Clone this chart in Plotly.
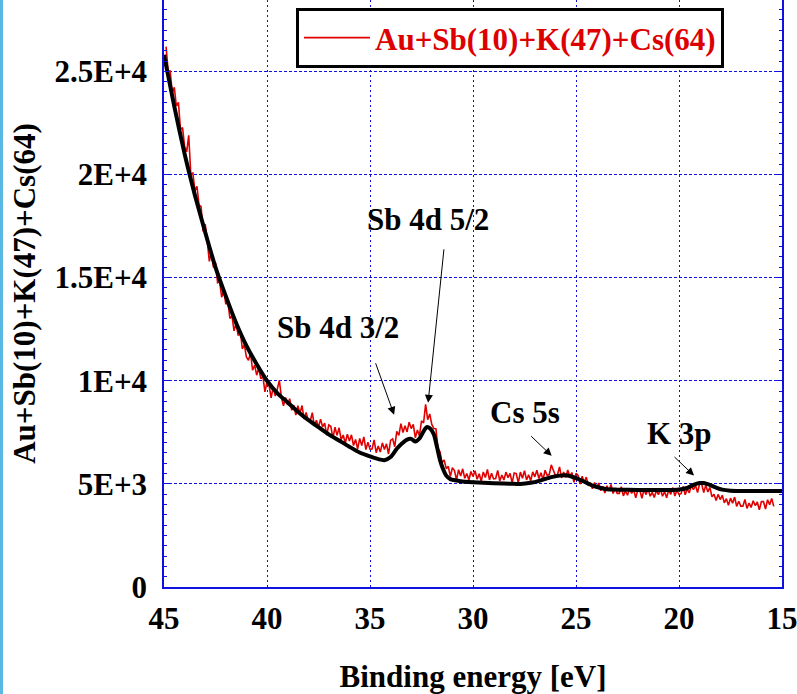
import plotly.graph_objects as go

# ---------------- data ----------------
# measured spectrum: channels every 0.1 eV from 44.9 eV down to 15.4 eV
ENERGY_START = 44.9
ENERGY_STEP = 0.1
spectrum_counts = [
    # 44.9 .. 44.0
    26200, 25030, 25020, 23950, 24230, 23320, 23500, 22180, 22270, 21350,
    # 43.9 .. 43.0
    21100, 21900, 20010, 20070, 19220, 19430, 18530, 18440, 17240, 17600,
    # 42.9 .. 42.0
    16780, 15790, 16250, 15500, 15730, 14750, 14810, 14050, 14380, 13710,
    # 41.9 .. 41.0
    13820, 13020, 13140, 12420, 12780, 12190, 12470, 11550, 11750, 11150,
    # 40.9 .. 40.0
    10990, 11350, 10510, 10750, 10270, 10620, 10100, 10220, 9460, 9940,
    # 39.9 .. 39.0
    9780, 9170, 9690, 9260, 9600, 10010, 9200, 8780, 9190, 8830,
    # 38.9 .. 38.0
    9130, 8570, 8820, 8340, 8790, 8410, 8800, 8140, 8460, 8080,
    # 37.9 .. 37.0
    8060, 8450, 7800, 8090, 7750, 8140, 7760, 7950, 7360, 7860,
    # 36.9 .. 36.0
    7780, 7200, 7750, 7350, 7720, 7140, 7370, 6970, 7410, 7080,
    # 35.9 .. 35.0
    7380, 6860, 7150, 6700, 7200, 6860, 7280, 6660, 7020, 6680,
    # 34.9 .. 34.0
    6690, 7130, 6510, 6840, 6540, 6990, 6670, 6940, 6450, 7110,
    # 33.9 .. 33.0
    7180, 6800, 7550, 7350, 7920, 7490, 7820, 7520, 7990, 7680,
    # 32.9 .. 32.0
    7880, 7240, 7610, 7340, 8060, 7950, 8850, 8110, 8390, 7880,
    # 31.9 .. 31.0
    7680, 7670, 6710, 6560, 6020, 6160, 5740, 5850, 5350, 5780,
    # 30.9 .. 30.0
    5650, 5190, 5690, 5380, 5730, 5270, 5500, 5190, 5600, 5360,
    # 29.9 .. 29.0
    5640, 5220, 5490, 5130, 5580, 5310, 5700, 5190, 5510, 5240,
    # 28.9 .. 28.0
    5260, 5650, 5140, 5430, 5190, 5570, 5300, 5510, 5050, 5530,
    # 27.9 .. 27.0
    5500, 5050, 5570, 5270, 5640, 5190, 5440, 5150, 5580, 5340,
    # 26.9 .. 26.0
    5660, 5260, 5540, 5200, 5660, 5410, 5450, 5920, 5660, 5410,
    # 25.9 .. 25.0
    5440, 5820, 5290, 5570, 5310, 5670, 5370, 5550, 5070, 5510,
    # 24.9 .. 24.0
    5410, 4990, 5370, 5070, 5330, 4900, 5060, 4760, 5070, 4820,
    # 23.9 .. 23.0
    5040, 4670, 4880, 4560, 4910, 4670, 4970, 4530, 4780, 4540,
    # 22.9 .. 22.0
    4540, 4860, 4420, 4660, 4450, 4770, 4540, 4710, 4320, 4710,
    # 21.9 .. 21.0
    4680, 4300, 4730, 4480, 4770, 4400, 4590, 4340, 4680, 4480,
    # 20.9 .. 20.0
    4740, 4400, 4630, 4330, 4710, 4490, 4820, 4410, 4690, 4480,
    # 19.9 .. 19.0
    4520, 4870, 4470, 4750, 4570, 4920, 4720, 4930, 4580, 5000,
    # 18.9 .. 18.0
    5000, 4580, 4940, 4610, 4830, 4370, 4500, 4190, 4490, 4240,
    # 17.9 .. 17.0
    4450, 4080, 4280, 3960, 4310, 4060, 4360, 3910, 4160, 3920,
    # 16.9 .. 16.0
    3920, 4240, 3810, 4070, 3860, 4180, 3950, 4120, 3740, 4140,
    # 15.9 .. 15.4
    4140, 3780, 4230, 3990, 4290, 3910,
]
spectrum_energy = [round(ENERGY_START - ENERGY_STEP * i, 1) for i in range(len(spectrum_counts))]

# fitted curve
fit_energy = [45.0, 44.5, 44.0, 43.5, 43.0, 42.5, 42.0, 41.5, 41.0, 40.5, 40.0,
              39.5, 39.0, 38.5, 38.0, 37.5, 37.0, 36.5, 36.0, 35.5, 35.0, 34.6,
              34.3, 34.0, 33.7, 33.45, 33.2, 33.0, 32.8, 32.6, 32.4, 32.25, 32.1,
              31.9, 31.75, 31.6, 31.44, 31.3, 31.1, 30.6, 30.0, 29.0, 28.0, 27.7,
              27.2, 26.75, 26.2, 25.8, 25.5, 25.0, 24.5, 24.16, 23.8, 23.5, 23.0,
              22.0, 21.0, 20.3, 19.9, 19.6, 19.3, 19.0, 18.8, 18.5, 18.2, 17.9,
              17.5, 17.0, 16.0, 15.0]
fit_counts = [25800, 23300, 21000, 19000, 17200, 15500, 14100, 12800, 11700, 10800, 10000,
              9400, 8950, 8500, 8100, 7750, 7400, 7100, 6800, 6520, 6330, 6200,
              6150, 6300, 6700, 6960, 7150, 7180, 7050, 7200, 7550, 7750, 7700,
              7400, 6800, 6150, 5680, 5400, 5230, 5130, 5080, 5030, 5000, 4990,
              5050, 5160, 5330, 5400, 5420, 5280, 5060, 4900, 4800, 4740, 4720,
              4705, 4700, 4700, 4740, 4800, 4950, 5040, 5040, 4950, 4820, 4720,
              4670, 4660, 4660, 4660]

y_tick_vals = [0, 5000, 10000, 15000, 20000, 25000]
y_tick_text = ["0", "5E+3", "1E+4", "1.5E+4", "2E+4", "2.5E+4"]
x_tick_vals = [45, 40, 35, 30, 25, 20, 15]

series_name = "Au+Sb(10)+K(47)+Cs(64)"

# peak labels: (text, label E, label counts, arrow head E, head counts, ax px, ay px)
peak_labels = [
    ("Sb 4d 3/2", 36.55, 12570, 33.83, 8350, -19, -53),
    ("Sb 4d 5/2", 32.18, 17810, 32.18, 8930, 16, -155),
    ("Cs 5s", 27.48, 8450, 26.18, 6360, -22, -21),
    ("K 3p", 20.0, 7430, 19.27, 5400, -21, -20),
]

# ---------------- figure ----------------
FONT = "Liberation Serif"
FS = 31
BLUE = "#1010e0"

fig = go.Figure()
fig.add_trace(go.Scatter(
    x=spectrum_energy, y=spectrum_counts, mode="lines",
    line=dict(color="#e00000", width=1.6), name=series_name, showlegend=True,
))
fig.add_trace(go.Scatter(
    x=fit_energy, y=fit_counts, mode="lines",
    line=dict(color="black", width=4, shape="spline", smoothing=0.6),
    showlegend=False,
))

for text, lx, ly, hx, hy, ax, ay in peak_labels:
    fig.add_annotation(x=lx, y=ly, xref="x", yref="y", text=text, showarrow=False,
                       font=dict(family=FONT, size=FS, color="black", weight="bold"))
    fig.add_annotation(x=hx, y=hy, xref="x", yref="y", text="", showarrow=True,
                       ax=ax, ay=ay, arrowhead=2, arrowsize=1.6, arrowwidth=1,
                       arrowcolor="black", standoff=0)

# light blue strip at left edge
fig.add_shape(type="rect", xref="paper", yref="paper",
              x0=-164 / 618, x1=-161 / 618, y0=-107 / 587, y1=1.0,
              fillcolor="#5ab8e4", line=dict(width=0), layer="above")

fig.update_layout(
    width=797, height=694,
    margin=dict(l=164, r=15, t=0, b=107, autoexpand=False),
    paper_bgcolor="white", plot_bgcolor="white",
    font=dict(family=FONT, size=FS, color="black", weight="bold"),
    showlegend=True,
    legend=dict(x=(296 - 164) / 618, y=1 - 8 / 587, xanchor="left", yanchor="top",
                bgcolor="white", bordercolor="black", borderwidth=3,
                font=dict(family=FONT, size=FS, color="#dd0000", weight="bold"),
                itemwidth=66, tracegroupgap=0),
    xaxis=dict(
        range=[45, 15], tickvals=x_tick_vals, ticks="", showline=True,
        linecolor=BLUE, linewidth=1.5, mirror=False, automargin=False,
        showgrid=True, gridcolor=BLUE, gridwidth=1, griddash="2px,3px",
        zeroline=False, ticklabelstandoff=3, ticklabeloverflow="allow",
        title=dict(text="Binding energy [eV]", standoff=33,
                   font=dict(family=FONT, size=FS, weight="bold")),
        tickfont=dict(family=FONT, size=FS, weight="bold"),
    ),
    yaxis=dict(
        range=[0, 28460], tickvals=y_tick_vals, ticktext=y_tick_text,
        ticks="inside", ticklen=5, tickcolor=BLUE, showline=True,
        linecolor=BLUE, linewidth=1.5, mirror="ticks", automargin=False,
        showgrid=True, gridcolor=BLUE, gridwidth=1, griddash="3px,2px",
        zeroline=False, ticklabelstandoff=9,
        minor=dict(dtick=500, ticks="inside", ticklen=3, tickcolor=BLUE, showgrid=False),
        title=dict(text=series_name, standoff=10,
                   font=dict(family=FONT, size=FS, weight="bold")),
        tickfont=dict(family=FONT, size=FS, weight="bold"),
    ),
)

fig.write_html("out.html", config={"displayModeBar": False},
               post_script="document.body.style.margin='0';document.body.style.overflow='hidden';")
